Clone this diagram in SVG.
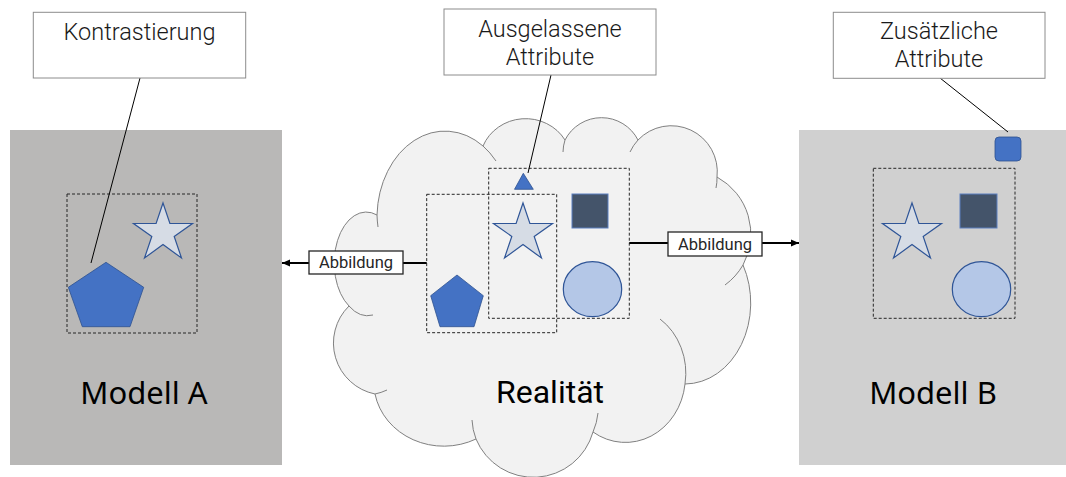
<svg xmlns="http://www.w3.org/2000/svg" width="1066" height="477" viewBox="0 0 1066 477">
  <defs>
    <style>
      .panel-a { fill: #b9b8b7; }
      .panel-b { fill: #d0d0d0; }
      .cloud { fill: #f2f2f2; stroke: #808080; stroke-width: 1; }
      .crease { fill: none; stroke: #808080; stroke-width: 1; }
      .frame { fill: none; stroke: #262626; stroke-width: 1; stroke-dasharray: 3 2; }
      .note { fill: #ffffff; stroke: #8c8c8c; stroke-width: 1; }
      .note-text { font-family: Roboto, "Liberation Sans", sans-serif; font-weight: 300; font-size: 23.5px; fill: #1a1a1a; text-anchor: middle; }
      .tag { fill: #ffffff; stroke: #262626; stroke-width: 1.3; }
      .tag-text { font-family: Roboto, "Liberation Sans", sans-serif; font-weight: 400; font-size: 16.5px; fill: #262626; text-anchor: middle; }
      .title { font-family: "Noto Sans", "Open Sans", sans-serif; font-size: 31px; fill: #000000; text-anchor: middle; }
      .title-r { font-family: Roboto, "Liberation Sans", sans-serif; font-size: 32px; fill: #000000; text-anchor: middle; }
      .star { fill: #d6dce5; stroke: #2f5597; stroke-width: 1.2; }
      .pent { fill: #4472c4; stroke: #2f528f; stroke-width: 0.8; }
      .sq { fill: #44546a; stroke: #5b7fbf; stroke-width: 1; }
      .circ { fill: #b4c7e7; stroke: #2f5597; stroke-width: 1.2; }
      .tri { fill: #4472c4; stroke: #2f528f; stroke-width: 0.8; }
      .leader { stroke: #000000; stroke-width: 1; fill: none; }
      .flow { stroke: #000000; stroke-width: 2; fill: none; marker-end: url(#head); }
    </style>
    <marker id="head" markerUnits="userSpaceOnUse" markerWidth="9" markerHeight="8" refX="8" refY="4" orient="auto">
      <path d="M0,0.5 L8,4 L0,7.5 Z" fill="#000000"/>
    </marker>
    <!-- five-pointed star, anchored at its top point -->
    <path id="star5" d="M0,0 L6.9,20.5 L29.5,20.5 L11.2,33.4 L18.5,55 L0,41.6 L-18.5,55 L-11.2,33.4 L-29.5,20.5 L-6.9,20.5 Z"/>
  </defs>

  <!-- Modell A -->
  <g id="modell-a">
    <rect class="panel-a" x="10" y="130" width="272" height="335"/>
    <rect class="frame" x="67" y="194" width="130" height="139"/>
    <use href="#star5" class="star" x="163" y="203"/>
    <polygon class="pent" points="106,262.3 143.7,287.3 130,326.7 82.3,326.7 68.3,287.3"/>
    <text class="title" x="144" y="404">Modell A</text>
  </g>

  <!-- Modell B -->
  <g id="modell-b">
    <rect class="panel-b" x="799" y="130" width="267" height="335"/>
    <rect class="frame" x="873.3" y="168.3" width="141.7" height="150"/>
    <use href="#star5" class="star" x="912" y="203"/>
    <rect class="sq" x="960" y="194" width="37" height="34"/>
    <ellipse class="circ" cx="981.5" cy="289.2" rx="29.2" ry="27.5"/>
    <rect class="pent" x="995" y="137" width="26" height="24" rx="4"/>
    <text class="title" x="933" y="404">Modell B</text>
  </g>

  <!-- Realität: cloud with its contents -->
  <g id="realitaet">
    <path class="cloud" d="M377,215 A68,87 0 0 1 483,146 A46,44 0 0 1 565,140 A41,41 0 0 1 638,140 A46,46 0 0 1 717,177 A65,65 0 0 1 743,265 A66,81 0 0 1 685,384 A60,66 0 0 1 593,432 A62,62 0 0 1 476,439 A70,64 0 0 1 375,394 A52,52 0 0 1 349,306 A32,51 0 0 1 377,215 Z"/>
    <path class="crease" d="M377,215 A68,87 0 0 0 378,227 M483,146 A68,87 0 0 1 496,161 M565,140 A41,41 0 0 0 563,152 M638,140 A46,46 0 0 0 630,152 M717,177 A46,46 0 0 1 716,188 M743,265 A65,65 0 0 1 725,285 M685,384 A60,66 0 0 0 660,319 M593,432 A62,62 0 0 0 598,413 M476,439 A62,62 0 0 1 472,420 M375,394 A52,52 0 0 0 387,390 M349,306 A32,51 0 0 0 373,315"/>
    <polygon class="tri" points="523.3,173.3 533.3,189.3 514.5,189.3"/>
    <use href="#star5" class="star" x="523" y="203"/>
    <rect class="sq" x="572" y="194" width="36" height="34"/>
    <ellipse class="circ" cx="592.5" cy="289.2" rx="29.2" ry="27.5"/>
    <polygon class="pent" points="457,275 483.3,295.7 474,326.7 440,326.7 430.7,295.7"/>
    <rect class="frame" x="426.7" y="194.3" width="130" height="138.4"/>
    <rect class="frame" x="488.7" y="168.3" width="140.6" height="150"/>
    <text class="title-r" x="550" y="403">Realität</text>
  </g>

  <!-- Abbildung connectors -->
  <g id="connectors">
    <line class="flow" x1="426.7" y1="263" x2="282" y2="263"/>
    <line class="flow" x1="629.3" y1="243" x2="799" y2="243"/>
    <line class="leader" x1="140" y1="78" x2="91" y2="263"/>
    <line class="leader" x1="551" y1="75" x2="528" y2="173"/>
    <line class="leader" x1="940" y1="78" x2="1008" y2="132"/>
  </g>

  <g id="tag-abbildung-links">
    <rect class="tag" x="309" y="251" width="94" height="23"/>
    <text class="tag-text" x="356" y="268">Abbildung</text>
  </g>
  <g id="tag-abbildung-rechts">
    <rect class="tag" x="668" y="232" width="94" height="24"/>
    <text class="tag-text" x="715" y="249.5">Abbildung</text>
  </g>

  <!-- Callouts -->
  <g id="note-kontrastierung">
    <rect class="note" x="33.3" y="12.3" width="212.4" height="65.7"/>
    <text class="note-text" x="139.5" y="39.5">Kontrastierung</text>
  </g>
  <g id="note-ausgelassen">
    <rect class="note" x="444" y="9" width="212" height="66"/>
    <text class="note-text" x="550" y="36.7">Ausgelassene</text>
    <text class="note-text" x="550" y="65">Attribute</text>
  </g>
  <g id="note-zusaetzlich">
    <rect class="note" x="833.3" y="12.3" width="211.7" height="66"/>
    <text class="note-text" x="939" y="39.3">Zusätzliche</text>
    <text class="note-text" x="939" y="66.7">Attribute</text>
  </g>
</svg>
